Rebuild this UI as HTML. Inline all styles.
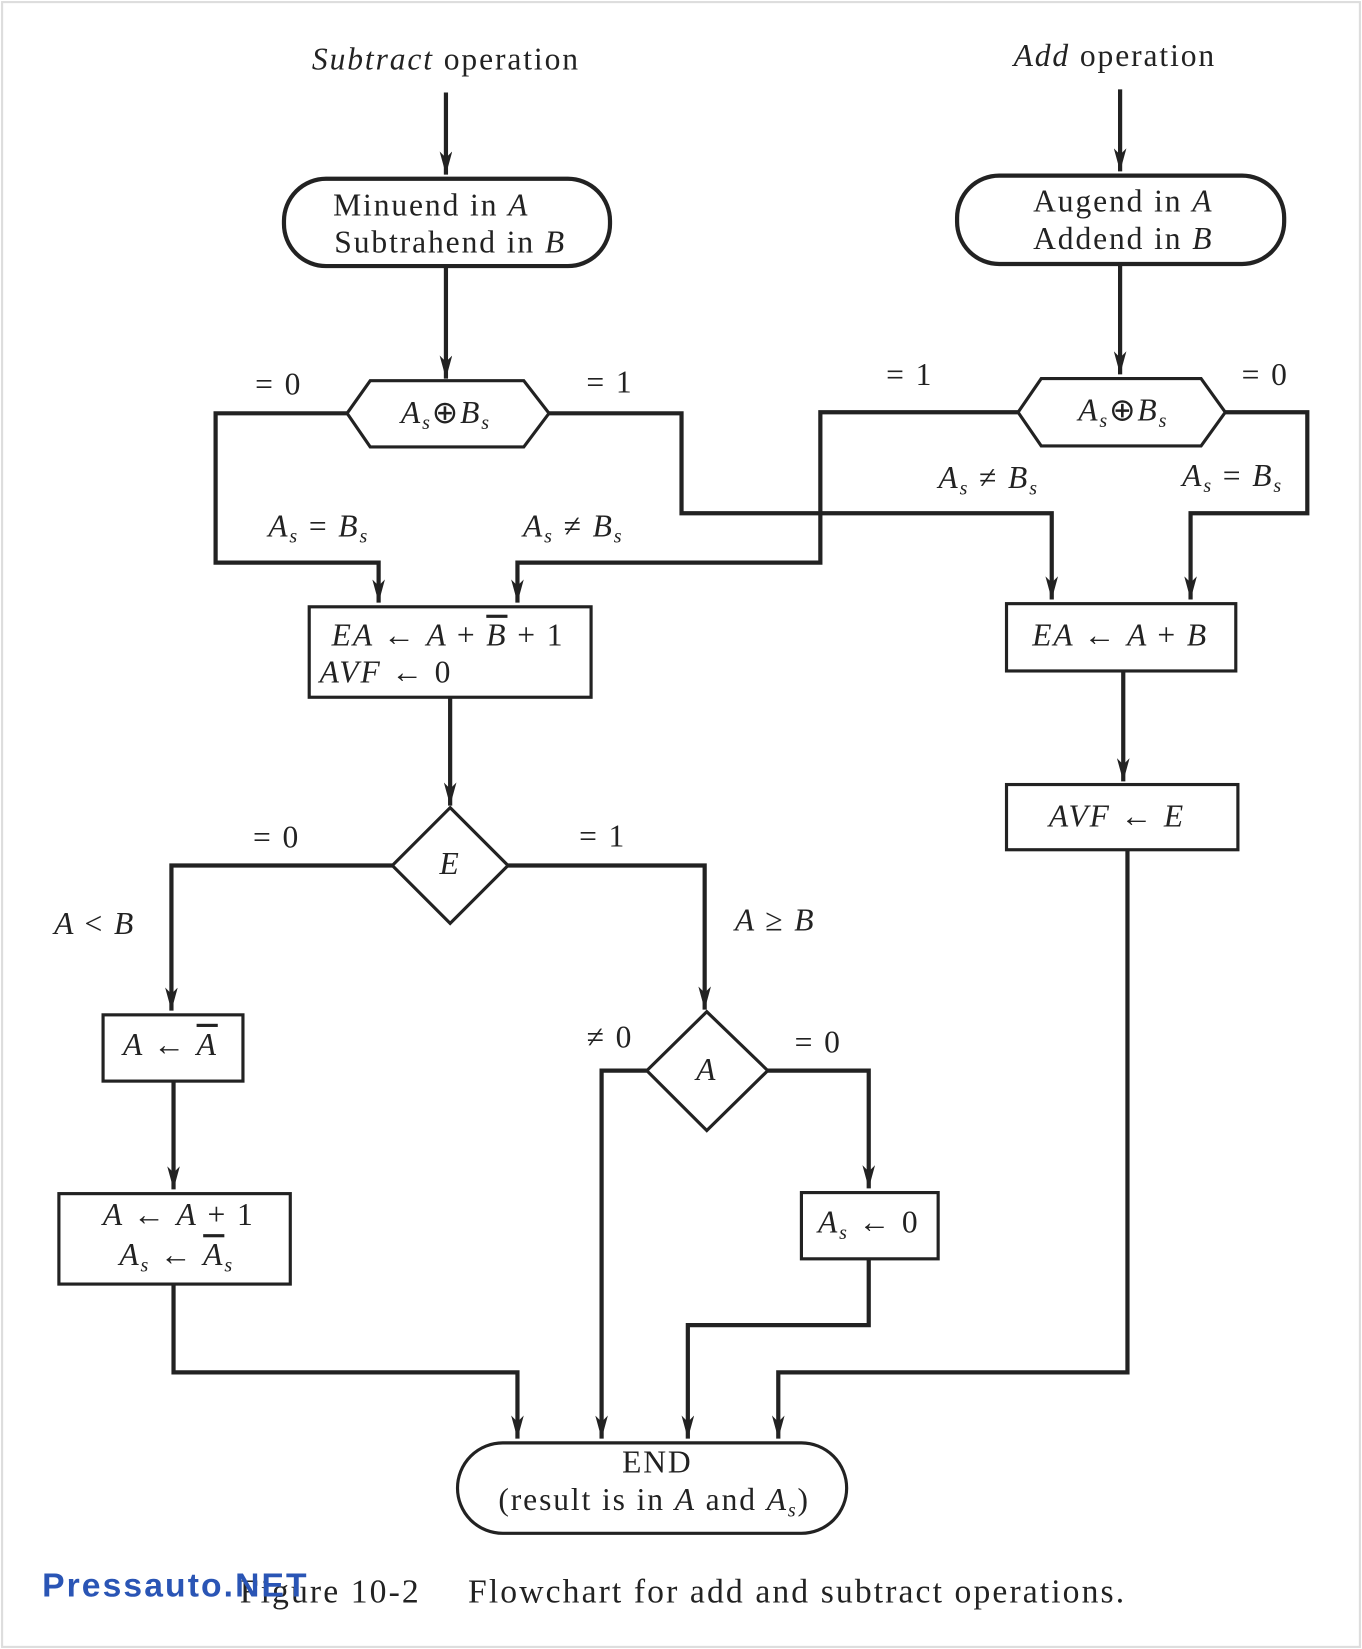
<!DOCTYPE html>
<html><head><meta charset="utf-8"><style>
html,body{margin:0;padding:0;background:#fff;}
svg{display:block;}
text{font-family:"Liberation Serif",serif;font-size:30px;letter-spacing:1.8px;fill:#222;}
.i{font-style:italic;}
</style></head><body>
<svg width="1362" height="1649" viewBox="0 0 1295 1568" preserveAspectRatio="none" xmlns="http://www.w3.org/2000/svg">
<defs>
<marker id="b" markerWidth="12" markerHeight="22" refX="6" refY="22" orient="0" markerUnits="userSpaceOnUse" viewBox="0 0 12 22"><path d="M0,0 L6,22 L12,0 L6,6 Z" fill="#222"/></marker></defs>
<rect x="2" y="2" width="1291" height="1564" fill="none" stroke="#ddd" stroke-width="2"/>
<g fill="none" stroke="#222" stroke-width="4">
<path d="M424,88 V166" marker-end="url(#b)"/>
<rect x="270" y="170" width="310" height="83" rx="40"/>
<path d="M424,253 V360" marker-end="url(#b)"/>
<path d="M330,393 L352,362 L498,362 L522,393 L498,425 L352,425 Z" stroke-width="3"/>
<path d="M330,393 H205 V535 H360 V573" marker-end="url(#b)"/>
<path d="M522,393 H648 V488 H1000 V570" marker-end="url(#b)"/>
<path d="M968,392 H780 V535 H492 V573" marker-end="url(#b)"/>
<rect x="294" y="577" width="268" height="86" stroke-width="3"/>
<path d="M428,663 V766" marker-end="url(#b)"/>
<path d="M428,768 L483,823 L428,878 L373,823 Z" stroke-width="3"/>
<path d="M373,823 H163 V961" marker-end="url(#b)"/>
<path d="M483,823 H670 V960" marker-end="url(#b)"/>
<rect x="98" y="965" width="133" height="63" stroke-width="3"/>
<path d="M165,1028 V1131" marker-end="url(#b)"/>
<rect x="56" y="1135" width="220" height="86" stroke-width="3"/>
<path d="M165,1221 V1305 H492 V1368" marker-end="url(#b)"/>
<path d="M672,962 L730,1018 L672,1075 L615,1018 Z" stroke-width="3"/>
<path d="M615,1018 H572 V1368" marker-end="url(#b)"/>
<path d="M730,1018 H826 V1130" marker-end="url(#b)"/>
<rect x="762" y="1134" width="130" height="63" stroke-width="3"/>
<path d="M826,1197 V1260 H654 V1368" marker-end="url(#b)"/>
<path d="M1065,85 V163" marker-end="url(#b)"/>
<rect x="910" y="167" width="311" height="84" rx="40"/>
<path d="M1065,251 V356" marker-end="url(#b)"/>
<path d="M968,392 L990,360 L1142,360 L1165,392 L1142,424 L990,424 Z" stroke-width="3"/>
<path d="M1165,392 H1243 V488 H1132 V570" marker-end="url(#b)"/>
<rect x="957" y="574" width="218" height="64" stroke-width="3"/>
<path d="M1068,638 V743" marker-end="url(#b)"/>
<rect x="957" y="746" width="220" height="62" stroke-width="3"/>
<path d="M1072,808 V1305 H740 V1368" marker-end="url(#b)"/>
<rect x="435" y="1372" width="370" height="86" rx="43" stroke-width="3"/>
</g>
<g text-anchor="middle">
<text x="424" y="66"><tspan class="i">Subtract</tspan> operation</text>
<text x="1060" y="63"><tspan class="i">Add</tspan> operation</text>
<text x="410" y="205">Minuend in <tspan class="i">A</tspan></text>
<text x="428" y="240">Subtrahend in <tspan class="i">B</tspan></text>
<text x="1068" y="201">Augend in <tspan class="i">A</tspan></text>
<text x="1068" y="237">Addend in <tspan class="i">B</tspan></text>
<text x="424" y="402" class="i">A<tspan font-size="19" dy="6">s</tspan><tspan dy="-6" font-style="normal">⊕</tspan>B<tspan font-size="19" dy="6">s</tspan></text>
<text x="1068" y="400" class="i">A<tspan font-size="19" dy="6">s</tspan><tspan dy="-6" font-style="normal">⊕</tspan>B<tspan font-size="19" dy="6">s</tspan></text>
<text x="265" y="375">= 0</text>
<text x="580" y="373">= 1</text>
<text x="865" y="366">= 1</text>
<text x="1203" y="366">= 0</text>
<text x="303" y="510" class="i">A<tspan font-size="19" dy="6">s</tspan><tspan dy="-6" font-style="normal"> = </tspan>B<tspan font-size="19" dy="6">s</tspan></text>
<text x="545" y="510" class="i">A<tspan font-size="19" dy="6">s</tspan><tspan dy="-6" font-style="normal"> ≠ </tspan>B<tspan font-size="19" dy="6">s</tspan></text>
<text x="940" y="464" class="i">A<tspan font-size="19" dy="6">s</tspan><tspan dy="-6" font-style="normal"> ≠ </tspan>B<tspan font-size="19" dy="6">s</tspan></text>
<text x="1172" y="462" class="i">A<tspan font-size="19" dy="6">s</tspan><tspan dy="-6" font-style="normal"> = </tspan>B<tspan font-size="19" dy="6">s</tspan></text>
<text x="426" y="614" class="i">EA <tspan font-style="normal">← </tspan>A <tspan font-style="normal">+ </tspan><tspan text-decoration="overline">B</tspan><tspan font-style="normal"> + 1</tspan></text>
<text x="367" y="649" class="i">AVF <tspan font-style="normal">← 0</tspan></text>
<text x="1065" y="614" class="i">EA <tspan font-style="normal">← </tspan>A <tspan font-style="normal">+ </tspan>B</text>
<text x="1062" y="786" class="i">AVF <tspan font-style="normal">← </tspan>E</text>
<text x="428" y="831" class="i">E</text>
<text x="263" y="806">= 0</text>
<text x="573" y="805">= 1</text>
<text x="90" y="888" class="i">A <tspan font-style="normal">&lt;</tspan> B</text>
<text x="737" y="885" class="i">A <tspan font-style="normal">≥</tspan> B</text>
<text x="162" y="1003" class="i">A <tspan font-style="normal">← </tspan><tspan text-decoration="overline">A</tspan></text>
<text x="170" y="1165" class="i">A <tspan font-style="normal">← </tspan>A<tspan font-style="normal"> + 1</tspan></text>
<text x="168" y="1203" class="i">A<tspan font-size="19" dy="6">s</tspan><tspan dy="-6" font-style="normal"> ← </tspan><tspan text-decoration="overline">A</tspan><tspan font-size="19" dy="6">s</tspan></text>
<text x="672" y="1027" class="i">A</text>
<text x="580" y="996">≠ 0</text>
<text x="778" y="1001">= 0</text>
<text x="826" y="1172" class="i">A<tspan font-size="19" dy="6">s</tspan><tspan dy="-6" font-style="normal"> ← 0</tspan></text>
<text x="625" y="1400">END</text>
<text x="622" y="1436">(result is in <tspan class="i">A</tspan> and <tspan class="i">A</tspan><tspan class="i" font-size="19" dy="6">s</tspan><tspan dy="-6">)</tspan></text>
</g>
<text x="228" y="1524" style="font-size:32px;letter-spacing:2px">Figure 10-2</text>
<text x="445" y="1524" style="font-size:32px;letter-spacing:2px">Flowchart for add and subtract operations.</text>
<text x="40" y="1518" style="font-family:'Liberation Sans',sans-serif;font-weight:bold;font-size:32px;letter-spacing:2px;fill:#2a55b5">Pressauto.NET</text>
</svg>
</body></html>
